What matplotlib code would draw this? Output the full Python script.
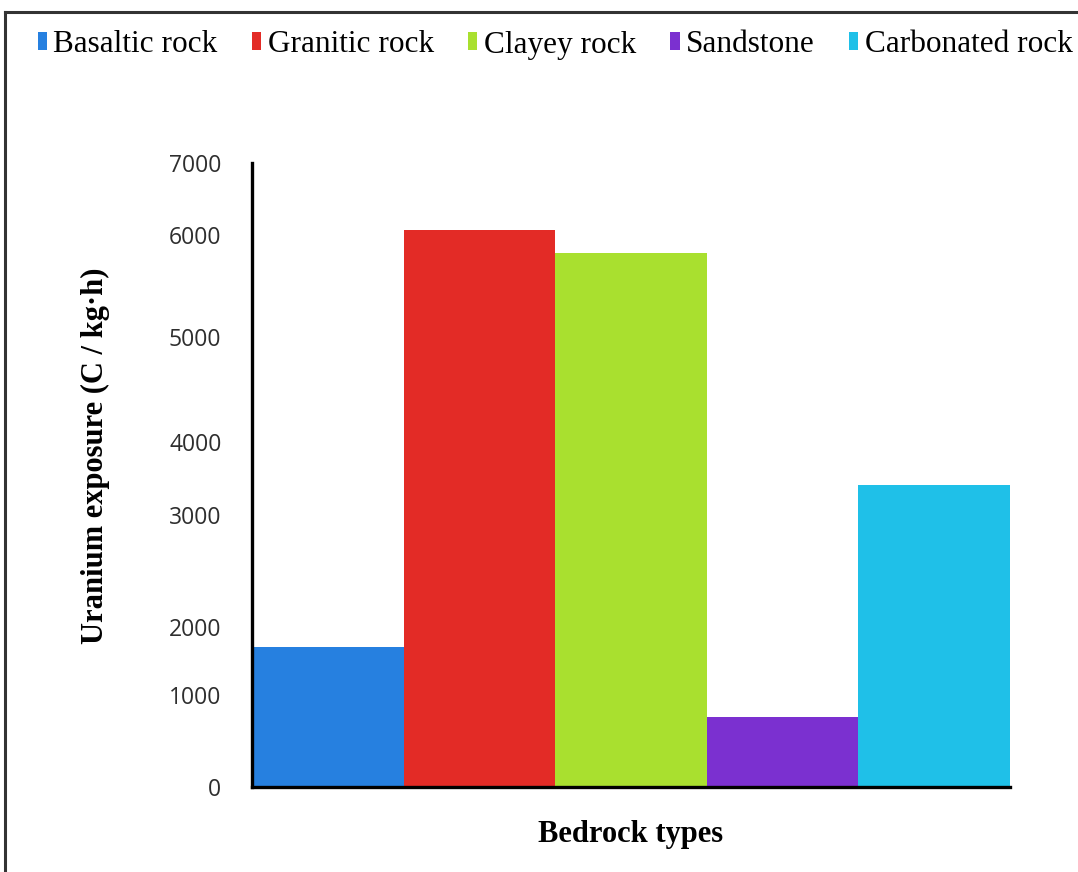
import numpy as np
import matplotlib.pyplot as plt
from matplotlib.lines import Line2D

rock_types = ['Basaltic rock', 'Granitic rock', 'Clayey rock', 'Sandstone', 'Carbonated rock']
exposure = [1700, 6070, 5820, 760, 3410]
colors = ['#2680E0', '#E32B26', '#A9E02F', '#7B30D0', '#1FC0E8']

# y ticks sit at uneven heights on this axis
tick_vals = [0, 1000, 2000, 3000, 4000, 5000, 6000, 7000]
tick_pos = [0, 92, 160, 272, 345, 450, 552, 624]


def fwd(v):
    return np.interp(v, tick_vals, tick_pos)


def inv(p):
    return np.interp(p, tick_pos, tick_vals)


fig = plt.figure(figsize=(10.78, 8.72), dpi=100)
ax = fig.add_axes([252 / 1078, 1 - 787 / 872, 758 / 1078, 624 / 872])

x = np.arange(len(rock_types))
bars = ax.bar(x, exposure, width=1.0, color=colors)
for b, name in zip(bars, rock_types):
    b.set_label(name)

ax.set_yscale('function', functions=(fwd, inv))
ax.set_ylim(0, 7000)
ax.set_xlim(-0.5, len(rock_types) - 0.5)
ax.set_yticks(tick_vals)
ax.set_yticklabels([str(v) for v in tick_vals], family='Open Sans', fontsize=16.5, color='#2e2e2e')
ax.set_xticks([])
ax.tick_params(axis='y', length=0, pad=22)
ax.yaxis.set_minor_locator(plt.NullLocator())

for side in ['top', 'right']:
    ax.spines[side].set_visible(False)
for side in ['left', 'bottom']:
    ax.spines[side].set_linewidth(2.4)
    ax.spines[side].set_color('black')

ax.set_xlabel('Bedrock types', family='Liberation Serif', fontweight='bold', fontsize=22, labelpad=24)
fig.text(95 / 1078, 1 - 456 / 872, 'Uranium exposure (C / kg·h)', family='Liberation Serif',
         fontweight='bold', fontsize=22, rotation=90, ha='center', va='center')

fig.legend(handles=list(bars), loc='center', bbox_to_anchor=(0.515, 1 - 45 / 872), ncol=5,
           frameon=False, prop={'family': 'Liberation Serif', 'size': 22.5},
           handlelength=0.3, handleheight=0.5, handletextpad=0.2, columnspacing=1.1)

# outer frame (top and left edges)
fig.add_artist(Line2D([5 / 1078, 1.0], [1 - 12 / 872] * 2, color='#333333', lw=2.2))
fig.add_artist(Line2D([5 / 1078] * 2, [0.0, 1 - 12 / 872], color='#333333', lw=2.2))

fig.savefig('out.png', dpi=100, facecolor='white')
